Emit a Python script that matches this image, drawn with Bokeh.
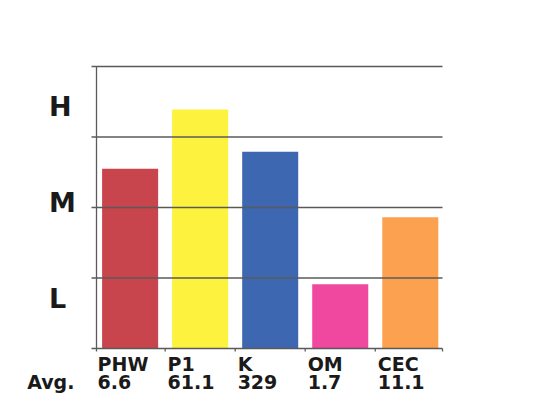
from bokeh.plotting import figure
from bokeh.models import Range1d
from bokeh.core.properties import value
from bokeh.embed import file_html
from bokeh.resources import INLINE

# ---- data ----
categories = ["PHW", "P1", "K", "OM", "CEC"]
averages = ["6.6", "61.1", "329", "1.7", "11.1"]
levels = [2.55, 3.39, 2.79, 0.91, 1.86]
colors = ["#C9454D", "#FDF23E", "#3D67B1", "#F0479F", "#FBA14F"]
level_labels = ["L", "M", "H"]
level_label_pos = [0.71, 2.07, 3.43]
grid_levels = [0, 1, 2, 3, 4]
avg_label = "Avg."

FONT = "DejaVu Sans"
W, H = 556, 403
UX, UY = 70.04, 70.5          # pixels per data unit
x_start, x_end = -0.48, 4.46  # plot-area extent (data units)
y_start, y_end = grid_levels[0], grid_levels[-1]
left_px, bottom_px = 96, 348  # plot-area left / bottom pixel

xr = Range1d(x_start - left_px / UX, x_start + (W - left_px) / UX)
yr = Range1d(-(H - bottom_px) / UY, bottom_px / UY)

p = figure(width=W, height=H, output_backend="svg", toolbar_location=None,
           x_range=xr, y_range=yr, x_axis_type=None, y_axis_type=None,
           min_border=0)
p.outline_line_color = None
p.background_fill_color = "white"
p.xgrid.visible = False
p.ygrid.visible = False

x = list(range(len(categories)))
p.vbar(x=x, top=levels, width=0.8, bottom=0, color=colors, line_color=None)

grid_color = "#5a5a5a"
lw = 1.3
n = len(grid_levels)
# horizontal grid lines (incl. bottom axis line) with small stubs to the left
p.segment(x0=[x_start - 5 / UX] * n, x1=[x_end] * n, y0=grid_levels,
          y1=grid_levels, line_color=grid_color, line_width=lw)
# vertical axis line
p.segment(x0=[x_start], x1=[x_start], y0=[y_start], y1=[y_end],
          line_color=grid_color, line_width=lw)
# category boundary ticks below the x axis
boundaries = [x_start] + [i + 0.5 for i in x[:-1]] + [x_end]
nb = len(boundaries)
p.segment(x0=boundaries, x1=boundaries, y0=[-3 / UY] * nb, y1=[0] * nb,
          line_color=grid_color, line_width=lw)

txt_kw = dict(text_font=value(FONT), text_font_style="bold",
              text_color="#1a1a1a", text_align="left",
              text_baseline="middle")

# level labels H/M/L (vertically centred on their positions)
p.text(x=[x_start - 47.5 / UX] * len(level_labels), y=level_label_pos,
       text=level_labels, text_font_size="27px", **txt_kw)

# category names / averages
lab_x = [i - 0.465 for i in x]
p.text(x=lab_x, y=[-15.7 / UY] * len(x), text=categories,
       text_font_size="19px", **txt_kw)
p.text(x=lab_x, y=[-33.0 / UY] * len(x), text=averages,
       text_font_size="19px", **txt_kw)
p.text(x=[x_start - 69.3 / UX], y=[-33.0 / UY], text=[avg_label],
       text_font_size="19px", **txt_kw)

open("out.html", "w").write(file_html(p, INLINE))
